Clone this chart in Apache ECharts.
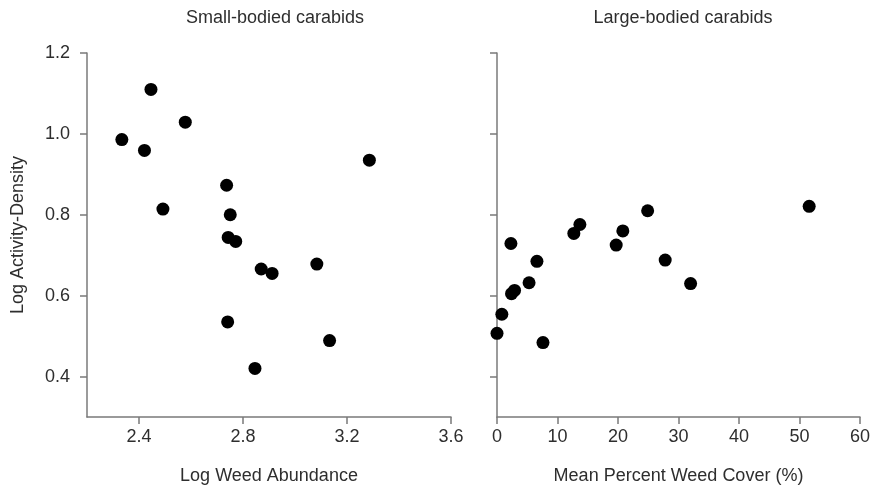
<!DOCTYPE html>
<html>
<head>
<meta charset="utf-8">
<script src="https://cdn.jsdelivr.net/npm/echarts@6/dist/echarts.min.js"></script>
<style>
  html, body { margin: 0; padding: 0; background: #fff; }
  #chart { width: 874px; height: 493px; }
</style>
</head>
<body>
<div id="chart"></div>
<script>
// small-bodied carabids: log weed abundance vs log activity-density
var smallX = [2.446, 2.578, 2.334, 2.421, 3.286, 2.737, 2.492, 2.751, 2.743, 2.772, 2.870, 2.912, 3.084, 2.741, 3.133, 2.846];
var smallY = [1.110, 1.029, 0.986, 0.959, 0.935, 0.873, 0.814, 0.800, 0.744, 0.734, 0.666, 0.655, 0.678, 0.535, 0.489, 0.420];

// large-bodied carabids: mean percent weed cover vs log activity-density
var largeX = [51.6, 24.9, 13.7, 12.7, 20.8, 19.7, 2.3, 6.6, 27.8, 5.3, 32.0, 2.4, 2.9, 0.8, 0.0, 7.6];
var largeY = [0.821, 0.810, 0.776, 0.754, 0.760, 0.725, 0.729, 0.685, 0.688, 0.632, 0.630, 0.605, 0.613, 0.554, 0.507, 0.484];

var leftTicks = [2.4, 2.8, 3.2, 3.6];
var rightTicks = [0, 10, 20, 30, 40, 50, 60];
var yTicks = [0.4, 0.6, 0.8, 1.0, 1.2];

var font = 'Liberation Sans, Arial, sans-serif';
var axisGray = '#7a7a7a';
var textColor = '#2e2e2e';

function pairs(xs, ys) {
    var out = [];
    for (var i = 0; i < xs.length; i++) out.push([xs[i], ys[i]]);
    return out;
}

function xAxis(idx, min, max, ticks, name, fmt) {
    return {
        gridIndex: idx,
        type: 'value',
        min: min,
        max: max,
        name: name,
        nameLocation: 'middle',
        nameGap: 50,
        nameTextStyle: { fontFamily: font, fontSize: 18, color: textColor },
        axisLine: { show: true, lineStyle: { color: axisGray, width: 1.5 } },
        axisTick: { show: true, length: 7, customValues: ticks, lineStyle: { color: axisGray, width: 1.5 } },
        axisLabel: {
            customValues: ticks, margin: 11, fontFamily: font, fontSize: 18, color: textColor,
            formatter: fmt
        },
        splitLine: { show: false }
    };
}

function yAxis(idx, showLabels) {
    var ax = {
        gridIndex: idx,
        type: 'value',
        min: 0.3,
        max: 1.2,
        axisLine: { show: true, lineStyle: { color: axisGray, width: 1.5 } },
        axisTick: { show: true, length: 7, customValues: yTicks, lineStyle: { color: axisGray, width: 1.5 } },
        axisLabel: {
            show: showLabels, customValues: yTicks, margin: 17, fontFamily: font, fontSize: 18, color: textColor,
            formatter: function (v) { return v.toFixed(1); }
        },
        splitLine: { show: false }
    };
    if (showLabels) {
        ax.name = 'Log Activity-Density';
        ax.nameLocation = 'middle';
        ax.nameGap = 60;
        ax.nameTextStyle = { fontFamily: font, fontSize: 18, color: textColor };
    }
    return ax;
}

var myChart = echarts.init(document.getElementById('chart'));
var option = {
    animation: false,
    backgroundColor: '#fff',
    title: [
        { text: 'Small-bodied carabids', left: 270, top: 4, textAlign: 'center',
          textStyle: { fontFamily: font, fontSize: 18, fontWeight: 'normal', color: textColor } },
        { text: 'Large-bodied carabids', left: 678, top: 4, textAlign: 'center',
          textStyle: { fontFamily: font, fontSize: 18, fontWeight: 'normal', color: textColor } }
    ],
    grid: [
        { left: 87, top: 53, width: 364, height: 364 },
        { left: 497, top: 53, width: 363, height: 364 }
    ],
    xAxis: [
        xAxis(0, 2.2, 3.6, leftTicks, 'Log Weed Abundance', function (v) { return v.toFixed(1); }),
        xAxis(1, 0, 60, rightTicks, 'Mean Percent Weed Cover (%)', function (v) { return String(v); })
    ],
    yAxis: [yAxis(0, true), yAxis(1, false)],
    series: [
        { type: 'scatter', xAxisIndex: 0, yAxisIndex: 0, symbolSize: 13,
          itemStyle: { color: '#000', opacity: 1 }, data: pairs(smallX, smallY) },
        { type: 'scatter', xAxisIndex: 1, yAxisIndex: 1, symbolSize: 13,
          itemStyle: { color: '#000', opacity: 1 }, data: pairs(largeX, largeY) }
    ]
};
myChart.setOption(option);
</script>
</body>
</html>
